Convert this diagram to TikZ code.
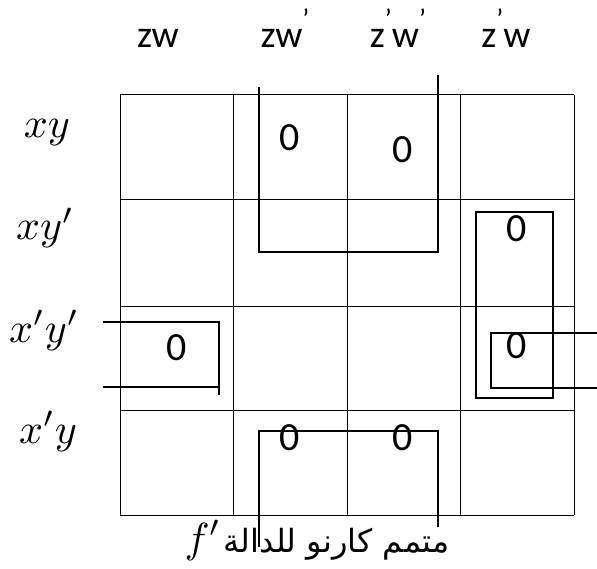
\documentclass[tikz,border=0pt]{standalone}
\usepackage{fontspec}
\setmainfont{Carlito}
\newfontfamily\arabicfont[Script=Arabic]{DejaVu Sans}
\TeXXeTstate=1
\newcommand{\tck}{\raisebox{0.5em}{\fontsize{28}{28}\selectfont ’}}
\newcommand{\kmath}[1]{\scalebox{4.2}{$#1$}}
\begin{document}
\begin{tikzpicture}[x=1pt,y=-1pt,
  gridline/.style={line width=1pt},
  grp/.style={line width=1.6pt},
  collab/.style={anchor=base,inner sep=0pt,font=\fontsize{38}{40}\selectfont},
  rowlab/.style={anchor=base,inner sep=0pt},
  zero/.style={inner sep=0pt,font=\fontsize{40}{44}\selectfont}]
\useasboundingbox (0,0) rectangle (597,569);
% grid
\foreach \x in {120,233,347,460,574} \draw[gridline] (\x,95) -- (\x,515);
\foreach \y in {95,200,307,410,515} \draw[gridline] (120,\y) -- (574,\y);
% column labels
\node[collab] (c1) at (158,48) {zw};
\node[collab] (c2) at (285,48) {zw\tck};
\node[collab] (c3) at (398,48) {z\tck w\tck};
\node[collab] (c4) at (506,48) {z\tck w};
% row labels
\node[rowlab] (r1) at (47,138) {\kmath{xy}};
\node[rowlab] (r2) at (45,240) {\kmath{xy'}};
\node[rowlab] (r3) at (44,342) {\kmath{x'y'}};
\node[rowlab] (r4) at (48,443) {\kmath{x'y}};
% zeros
\node[zero] (z1) at (290,137.5) {0};
\node[zero] (z2) at (403,150) {0};
\node[zero] (z3) at (517,229) {0};
\node[zero] (z4) at (517,346) {0};
\node[zero] (z5) at (177,348) {0};
\node[zero] (z6) at (290,438) {0};
\node[zero] (z7) at (403,438) {0};
% groups
\draw[grp] (259,87) -- (259,252) -- (438,252) -- (438,75);
\draw[grp] (103,322) -- (219,322) -- (219,395);
\draw[grp] (103,387) -- (219,387);
\draw[grp] (476,212) rectangle (553,398);
\draw[grp] (597,333) -- (491,333) -- (491,388) -- (597,388);
\draw[grp] (259,547) -- (259,431) -- (438,431) -- (438,527);
% caption
\node[anchor=base,inner sep=0pt] (cap) at (317,552)
  {\kmath{f'}\ {\arabicfont\fontsize{32}{36}\selectfont\beginR متمم كارنو للدالة\endR}};
\end{tikzpicture}
\end{document}
